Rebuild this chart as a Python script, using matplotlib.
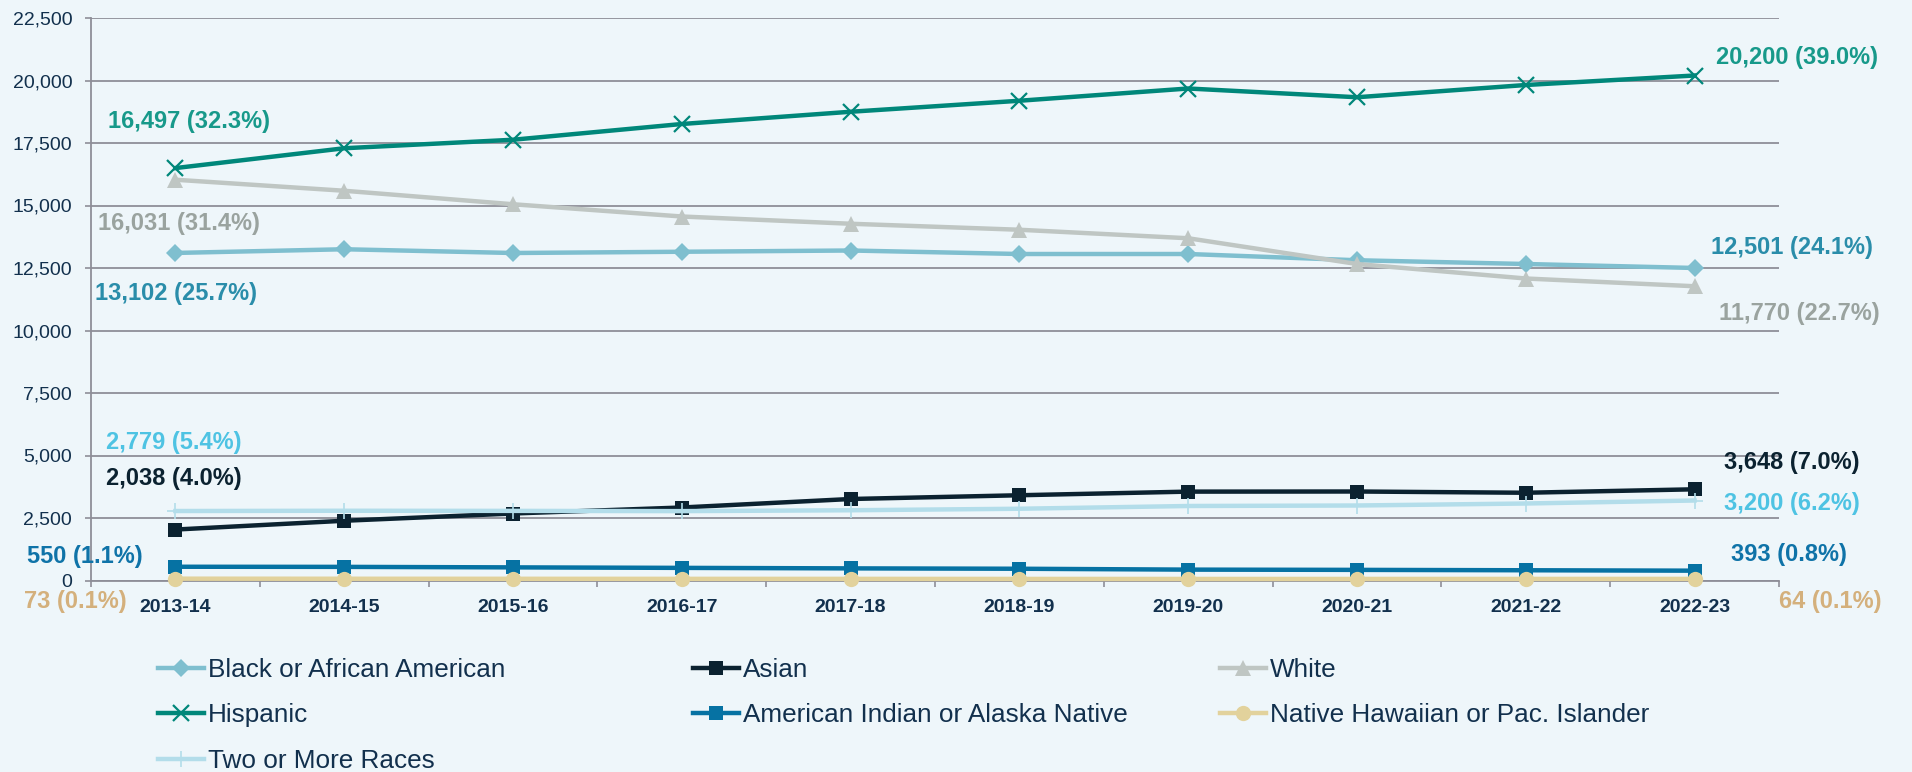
import matplotlib.pyplot as plt
from matplotlib.ticker import FuncFormatter, FixedLocator

plt.rcParams["font.family"] = ["Liberation Sans", "DejaVu Sans"]

# school years on the x axis
years = ["2013-14", "2014-15", "2015-16", "2016-17", "2017-18",
         "2018-19", "2019-20", "2020-21", "2021-22", "2022-23"]

# enrollment by group
black = [13102, 13250, 13100, 13150, 13200, 13060, 13060, 12810, 12660, 12501]
asian = [2038, 2390, 2680, 2920, 3260, 3410, 3555, 3560, 3510, 3648]
white = [16031, 15590, 15050, 14560, 14270, 14030, 13690, 12660, 12080, 11770]
hispanic = [16497, 17290, 17630, 18260, 18750, 19190, 19680, 19330, 19820, 20200]
am_indian = [550, 545, 525, 505, 485, 470, 435, 425, 410, 393]
hawaiian = [73, 70, 68, 66, 65, 63, 62, 62, 63, 64]
two_more = [2779, 2790, 2785, 2775, 2810, 2870, 2980, 3000, 3080, 3200]

names = ["Black or African American", "Asian", "White", "Hispanic",
         "American Indian or Alaska Native", "Native Hawaiian or Pac. Islander",
         "Two or More Races"]
first_labels = ["13,102 (25.7%)", "2,038 (4.0%)", "16,031 (31.4%)", "16,497 (32.3%)",
                "550 (1.1%)", "73 (0.1%)", "2,779 (5.4%)"]
last_labels = ["12,501 (24.1%)", "3,648 (7.0%)", "11,770 (22.7%)", "20,200 (39.0%)",
               "393 (0.8%)", "64 (0.1%)", "3,200 (6.2%)"]

BG = "#EEF6FA"
NAVY = "#12304D"
GRID = "#8E8E98"

styles = [
    dict(color="#7FBFCF", marker="D", ms=9, mew=0),
    dict(color="#0B2230", marker="s", ms=10, mew=0),
    dict(color="#BFC6C3", marker="^", ms=11, mew=0),
    dict(color="#00877A", marker="x", ms=12, mew=1.6),
    dict(color="#0672A3", marker="s", ms=10, mew=0),
    dict(color="#E2D29C", marker="o", ms=11, mew=0),
    dict(color="#B3DDEA", marker="+", ms=11, mew=1.2),
]
label_colors = ["#2A8DAA", "#0B2230", "#9AA39F", "#17998A", "#0F73A8", "#D4B07C", "#4EC3E3"]
first_off = [(-80, -41), (-69, 51), (-77, -44), (-67, 47), (-148, 10), (-151, -23), (-69, 69)]
last_off = [(16, 20), (29, 27), (24, -27), (21, 18), (36, 16), (84, -23), (29, -3)]

data = [black, asian, white, hispanic, am_indian, hawaiian, two_more]

fig = plt.figure(figsize=(19.12, 7.72), dpi=100, facecolor=BG)
ax = fig.add_axes([91 / 1912, 1 - 580.5 / 772, (1779 - 91) / 1912, (580.5 - 18) / 772])
ax.set_facecolor("none")

x = list(range(len(years)))
handles = []
for name, vals, st in zip(names, data, styles):
    ln, = ax.plot(x, vals, lw=3.2, label=name, zorder=3, clip_on=False, **st)
    handles.append(ln)

for i, vals in enumerate(data):
    ax.annotate(first_labels[i], xy=(0, vals[0]), xytext=first_off[i],
                textcoords="offset pixels", ha="left", va="center",
                fontsize=17, fontweight="bold", color=label_colors[i],
                annotation_clip=False)
    ax.annotate(last_labels[i], xy=(9, vals[-1]), xytext=last_off[i],
                textcoords="offset pixels", ha="left", va="center",
                fontsize=17, fontweight="bold", color=label_colors[i],
                annotation_clip=False)

ax.set_xlim(-0.5, 9.5)
ax.set_ylim(0, 22500)
ax.set_yticks(range(0, 22501, 2500))
ax.yaxis.set_major_formatter(FuncFormatter(lambda v, p: f"{int(v):,}"))
ax.yaxis.grid(True, color=GRID, lw=1.3, zorder=1)
ax.set_axisbelow(True)

ax.set_xticks(x)
ax.set_xticklabels(years, fontsize=14, fontweight="bold", color=NAVY)
ax.xaxis.set_minor_locator(FixedLocator([i - 0.5 for i in range(11)]))
ax.tick_params(axis="x", which="major", length=0, pad=13)
ax.tick_params(axis="x", which="minor", length=4, width=1.2, color=GRID, direction="out")
ax.tick_params(axis="y", length=4.5, width=1.2, color=GRID, pad=9,
               labelsize=14, labelcolor=NAVY)

for s in ["top", "right"]:
    ax.spines[s].set_visible(False)
for s in ["left", "bottom"]:
    ax.spines[s].set_color(GRID)
    ax.spines[s].set_linewidth(1.3)

# legend in three columns, filled row by row
cols = [[0, 3, 6], [1, 4], [2, 5]]
col_x = [158, 693, 1220]
for idx, cx in zip(cols, col_x):
    leg = fig.legend([handles[i] for i in idx], [names[i] for i in idx],
                     loc="upper left", bbox_to_anchor=(cx / 1912, 1 - 658 / 772),
                     frameon=False, borderpad=0, borderaxespad=0,
                     handlelength=1.75, handletextpad=0.15, labelspacing=0.82,
                     prop={"family": "Liberation Sans", "size": 18.8})
    for t in leg.get_texts():
        t.set_color(NAVY)

fig.savefig("out.png", dpi=100, facecolor=BG)
